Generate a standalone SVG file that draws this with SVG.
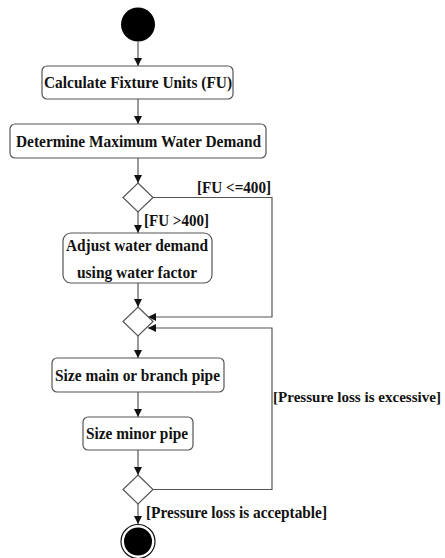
<svg xmlns="http://www.w3.org/2000/svg" width="445" height="558" viewBox="0 0 445 558">
<style>
.box{fill:#fff;stroke:#555;stroke-width:1.2}
.dia{fill:#fff;stroke:#555;stroke-width:1.2}
.ln{fill:none;stroke:#555;stroke-width:1.2}
text{font-family:"Liberation Serif","Times New Roman",serif;font-weight:bold;font-size:16px;fill:#111}
.sm{font-size:14px}
</style>
<defs>
<marker id="ah" viewBox="0 0 10 10" refX="10" refY="5" markerWidth="8" markerHeight="8" markerUnits="userSpaceOnUse" orient="auto">
<path d="M0,0 L10,5 L0,10 z" fill="#111"/>
</marker>
</defs>
<rect width="445" height="558" fill="#fff"/>
<g id="connectors">
<path class="ln" d="M138,42 V66" marker-end="url(#ah)"/>
<path class="ln" d="M138,99 V124" marker-end="url(#ah)"/>
<path class="ln" d="M138,158 V183" marker-end="url(#ah)"/>
<path class="ln" d="M138,212 V233" marker-end="url(#ah)"/>
<path class="ln" d="M153,197.5 H272 V317 H148" marker-end="url(#ah)"/>
<path class="ln" d="M138,283 V307" marker-end="url(#ah)"/>
<path class="ln" d="M138,336 V358" marker-end="url(#ah)"/>
<path class="ln" d="M138,392 V417" marker-end="url(#ah)"/>
<path class="ln" d="M138,450 V475" marker-end="url(#ah)"/>
<path class="ln" d="M153,489.5 H272 V328 H148" marker-end="url(#ah)"/>
<path class="ln" d="M138,504 V524" marker-end="url(#ah)"/>
<text x="197" y="193" textLength="74" lengthAdjust="spacingAndGlyphs">[FU &lt;=400]</text>
<text x="144" y="226" textLength="65" lengthAdjust="spacingAndGlyphs">[FU &gt;400]</text>
<text class="sm" x="273" y="402" textLength="168" lengthAdjust="spacingAndGlyphs">[Pressure loss is excessive]</text>
<text x="146" y="518" textLength="181" lengthAdjust="spacingAndGlyphs">[Pressure loss is acceptable]</text>
</g>
<g id="start"><circle cx="138" cy="24.5" r="17" fill="#000"/></g>
<g id="calc"><rect class="box" x="42" y="66" width="191" height="33" rx="5"/><text x="44" y="88" textLength="188" lengthAdjust="spacingAndGlyphs">Calculate Fixture Units (FU)</text></g>
<g id="determine"><rect class="box" x="10" y="124" width="256" height="34" rx="5"/><text x="16" y="146.5" textLength="245" lengthAdjust="spacingAndGlyphs">Determine Maximum Water Demand</text></g>
<g id="dec1"><path class="dia" d="M138,183 L153,197.5 L138,212 L123,197.5 z"/></g>
<g id="adjust"><rect class="box" x="63" y="233" width="149" height="50" rx="8"/><text x="66" y="250.5" textLength="142" lengthAdjust="spacingAndGlyphs">Adjust water demand</text><text x="77" y="278" textLength="120" lengthAdjust="spacingAndGlyphs">using water factor</text></g>
<g id="dec2"><path class="dia" d="M138,307 L153,321.5 L138,336 L123,321.5 z"/></g>
<g id="sizemain"><rect class="box" x="52" y="358" width="172" height="34" rx="5"/><text x="55" y="380.5" textLength="165" lengthAdjust="spacingAndGlyphs">Size main or branch pipe</text></g>
<g id="sizeminor"><rect class="box" x="83" y="417" width="110" height="33" rx="5"/><text x="86" y="439" textLength="102" lengthAdjust="spacingAndGlyphs">Size minor pipe</text></g>
<g id="dec3"><path class="dia" d="M138,475 L153,489.5 L138,504 L123,489.5 z"/></g>
<g id="end"><circle cx="138" cy="541.5" r="17" fill="#fff" stroke="#111" stroke-width="1.2"/><circle cx="138" cy="541.5" r="14" fill="#000"/></g>
</svg>
